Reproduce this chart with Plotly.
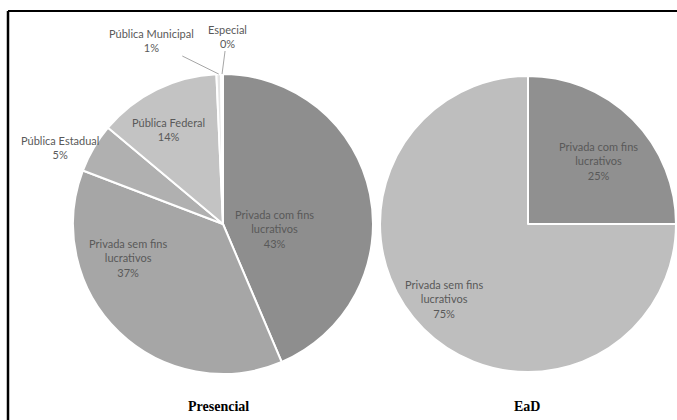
import math
import plotly.graph_objects as go

W, H = 677, 420

pres_labels = ["Privada com fins<br>lucrativos", "Privada sem fins<br>lucrativos",
               "Pública Estadual", "Pública Federal", "Pública Municipal", "Especial"]
pres_values = [43.6, 37.2, 5.3, 13.2, 0.5, 0.2]
pres_text = ["43%", "37%", "5%", "14%", "1%", "0%"]
pres_colors = ["#8e8e8e", "#a6a6a6", "#b0b0b0", "#c3c3c3", "#e4e4e4", "#eeeeee"]

ead_labels = ["Privada com fins<br>lucrativos", "Privada sem fins<br>lucrativos"]
ead_values = [25, 75]
ead_text = ["25%", "75%"]
ead_colors = ["#909090", "#bebebe"]

titles = ["Presencial", "EaD"]

# layout: pie centers / radius (pixels) and label placements
PIES = [dict(cx=223, cy=224, r=150), dict(cx=528, cy=224, r=148)]
pres_label_pos = [(274, 229), (128, 258), (60, 147), (168, 129), (152, 41), (227, 36)]
pres_leader = [False, False, False, False, True, True]
ead_label_pos = [(598, 161), (444, 299)]


def dom(p):
    cx, cy, r = p["cx"], p["cy"], p["r"]
    return dict(x=[(cx - r) / W, (cx + r) / W], y=[(H - cy - r) / H, (H - cy + r) / H])


def edge_point(p, values, i):
    tot = sum(values)
    frac = (sum(values[:i]) + values[i] / 2) / tot
    a = 2 * math.pi * frac
    return p["cx"] + p["r"] * math.sin(a), p["cy"] - p["r"] * math.cos(a)


font = dict(family="Lato, Open Sans, sans-serif", size=11, color="#595959")

fig = go.Figure()
for vals, labs, cols, p in [(pres_values, pres_labels, pres_colors, PIES[0]),
                            (ead_values, ead_labels, ead_colors, PIES[1])]:
    fig.add_trace(go.Pie(
        labels=labs, values=vals, textinfo="none",
        sort=False, direction="clockwise", rotation=0,
        marker=dict(colors=cols, line=dict(color="white", width=2)),
        domain=dom(p), showlegend=False, hoverinfo="skip", automargin=False,
    ))


def add_labels(labels, texts, positions, leaders, values, p):
    for i, (lab, t, (lx, ly), lead) in enumerate(zip(labels, texts, positions, leaders)):
        if lead:
            tx, ty = edge_point(p, values, i)
            fig.add_annotation(x=tx / W, y=(H - ty) / H, xref="paper", yref="paper",
                               ax=lx - tx, ay=ly - ty, text=lab + "<br>" + t,
                               showarrow=True, arrowhead=0, arrowwidth=1,
                               arrowcolor="#a6a6a6", font=font, align="center")
        else:
            fig.add_annotation(x=lx / W, y=(H - ly) / H, xref="paper", yref="paper",
                               xanchor="center", yanchor="middle",
                               text=lab + "<br>" + t, showarrow=False, font=font,
                               align="center")


add_labels(pres_labels, pres_text, pres_label_pos, pres_leader, pres_values, PIES[0])
add_labels(ead_labels, ead_text, ead_label_pos, [False, False], ead_values, PIES[1])

for t, cx in zip(titles, [218, 527]):
    fig.add_annotation(x=cx / W, y=(H - 406) / H, xref="paper", yref="paper",
                       xanchor="center", yanchor="middle",
                       text="<b>%s</b>" % t, showarrow=False,
                       font=dict(family="Liberation Serif", size=14, color="black"))

# frame (top and left edges)
fig.add_shape(type="line", xref="paper", yref="paper", x0=8 / W, x1=1, y0=(H - 11) / H, y1=(H - 11) / H,
              line=dict(color="black", width=2))
fig.add_shape(type="line", xref="paper", yref="paper", x0=8 / W, x1=8 / W, y0=0, y1=(H - 11) / H,
              line=dict(color="black", width=2.5))

fig.update_layout(width=W, height=H, margin=dict(l=0, r=0, t=0, b=0),
                  paper_bgcolor="white", plot_bgcolor="white")
fig.write_html("out.html")
